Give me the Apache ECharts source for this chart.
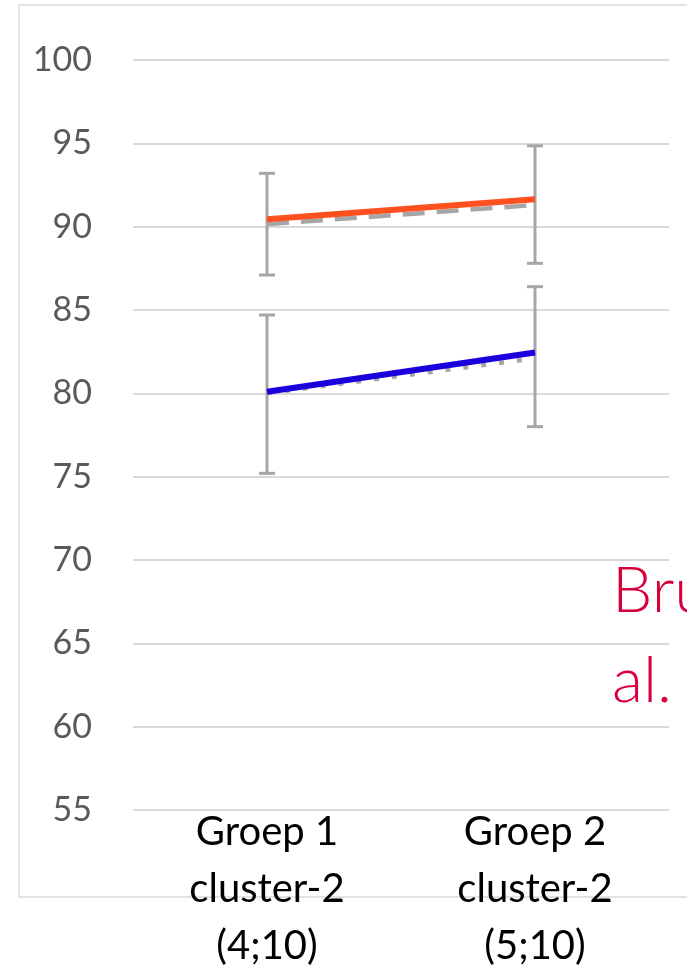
<!DOCTYPE html>
<html>
<head>
<meta charset="utf-8">
<script src="https://cdn.jsdelivr.net/npm/echarts@6/dist/echarts.min.js"></script>
<style>
html,body{margin:0;padding:0;background:#fff;}
#c{width:687px;height:967px;}
</style>
</head>
<body>
<div id="c"></div>
<script>
// ---- data ----
var categories = ['Groep 1\ncluster-2\n(4;10)', 'Groep 2\ncluster-2\n(5;10)'];
var yTicks = [55, 60, 65, 70, 75, 80, 85, 90, 95, 100];
var upperGray = [90.15, 91.3];     // dashed grey
var upperOrange = [90.45, 91.65];  // orange
var upperErrLow = [87.1, 87.8];
var upperErrHigh = [93.2, 94.85];
var lowerGray = [80.0, 82.1];      // dotted grey
var lowerBlue = [80.1, 82.45];     // blue
var lowerErrLow = [75.2, 78.0];
var lowerErrHigh = [84.7, 86.4];
var noteLines = ['Bru', 'al.'];

function errData(lo, hi) {
  return lo.map(function (v, i) { return [i, v, hi[i]]; });
}

function renderErr(params, api) {
  var x = api.value(0);
  var lo = api.coord([x, api.value(1)]);
  var hi = api.coord([x, api.value(2)]);
  var hw = 8;
  var st = { stroke: '#A6A6A6', lineWidth: 3 };
  return {
    type: 'group',
    children: [
      { type: 'line', shape: { x1: lo[0], y1: lo[1], x2: hi[0], y2: hi[1] }, style: st },
      { type: 'line', shape: { x1: lo[0] - hw, y1: lo[1], x2: lo[0] + hw, y2: lo[1] }, style: st },
      { type: 'line', shape: { x1: hi[0] - hw, y1: hi[1], x2: hi[0] + hw, y2: hi[1] }, style: st }
    ]
  };
}

var chart = echarts.init(document.getElementById('c'), null, { renderer: 'canvas' });
var font = 'Lato, "Open Sans", sans-serif';

chart.setOption({
  animation: false,
  backgroundColor: '#ffffff',
  grid: { left: 133, right: 18, top: 60, bottom: 157, containLabel: false, outerBoundsMode: 'none' },
  xAxis: {
    type: 'category',
    data: categories,
    boundaryGap: true,
    axisLine: { show: false },
    axisTick: { show: false },
    splitLine: { show: false },
    axisLabel: {
      color: '#000000',
      fontFamily: font,
      fontSize: 40,
      lineHeight: 57,
      margin: -6,
      interval: 0
    }
  },
  yAxis: {
    type: 'value',
    min: yTicks[0],
    max: yTicks[yTicks.length - 1],
    interval: 5,
    axisLine: { show: false },
    axisTick: { show: false },
    axisLabel: {
      color: '#595959',
      fontFamily: font,
      fontSize: 34,
      margin: 41
    },
    splitLine: { lineStyle: { color: '#D9D9D9', width: 2 } }
  },
  graphic: [
    {
      type: 'rect',
      shape: { x: 19, y: 5, width: 700, height: 892 },
      style: { fill: 'none', stroke: '#D9D9D9', lineWidth: 1.5 },
      z: -1
    },
    {
      type: 'text',
      left: 612,
      top: 546,
      style: {
        text: noteLines.join('\n'),
        fill: '#D6003C',
        font: '300 64px Lato, "Open Sans", sans-serif',
        lineHeight: 90
      },
      z: 10
    }
  ],
  series: [
    {
      type: 'custom',
      renderItem: renderErr,
      data: errData(upperErrLow, upperErrHigh),
      z: 1
    },
    {
      type: 'custom',
      renderItem: renderErr,
      data: errData(lowerErrLow, lowerErrHigh),
      z: 1
    },
    {
      type: 'line',
      data: upperGray,
      symbol: 'none',
      lineStyle: { color: '#A6A6A6', width: 4.5, type: [22, 12] },
      z: 2
    },
    {
      type: 'line',
      data: lowerGray,
      symbol: 'none',
      lineStyle: { color: '#A6A6A6', width: 4.5, type: [5, 13] },
      z: 2
    },
    {
      type: 'line',
      data: upperOrange,
      symbol: 'none',
      lineStyle: { color: '#FF5020', width: 6 },
      z: 3
    },
    {
      type: 'line',
      data: lowerBlue,
      symbol: 'none',
      lineStyle: { color: '#1A00DC', width: 6 },
      z: 3
    }
  ]
});
</script>
</body>
</html>
